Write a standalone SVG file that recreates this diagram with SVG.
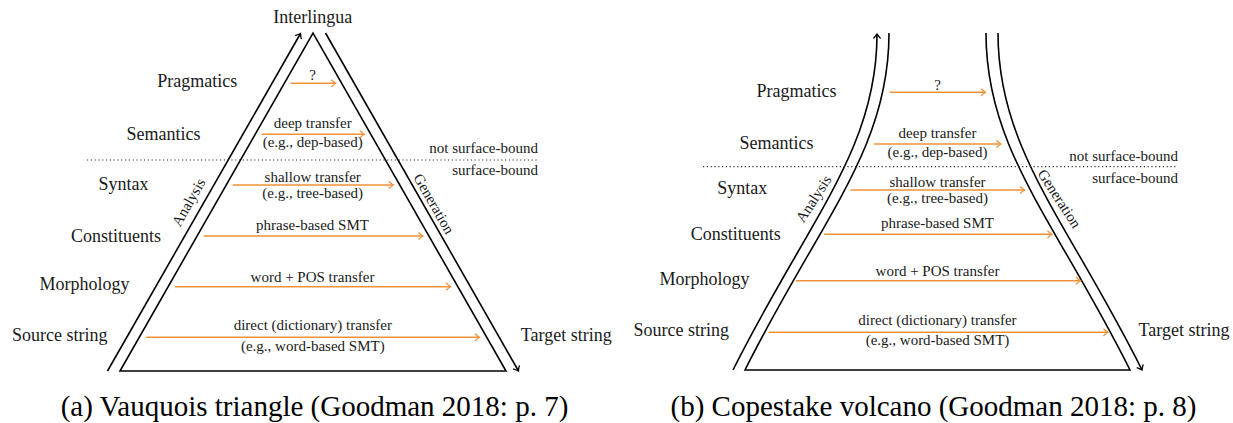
<svg xmlns="http://www.w3.org/2000/svg" width="1233" height="423" viewBox="0 0 1233 423">
<style>
text{font-family:'Liberation Serif',serif}
.lbl{font-size:18px;fill:#1a1a1a;text-anchor:middle}
.sm{font-size:15px;fill:#1a1a1a;text-anchor:middle}
.cap{font-size:29px;fill:#000;text-anchor:middle}
.edge{fill:none;stroke:#000;stroke-width:1.6}
.flow{fill:none;stroke:#f0913a;stroke-width:1.6;marker-end:url(#oa)}
.dot{stroke:#333;stroke-width:1.2;stroke-dasharray:1.2 2.6}
</style>
<defs>
<marker id="ba" markerUnits="userSpaceOnUse" markerWidth="12" markerHeight="12" refX="0" refY="0" orient="auto" overflow="visible">
<path d="M-4.5,-3.6 Q-1.6,-0.9 0,0 Q-1.6,0.9 -4.5,3.6" fill="none" stroke="#000" stroke-width="1.3"/>
</marker>
<marker id="oa" markerUnits="userSpaceOnUse" markerWidth="12" markerHeight="12" refX="0" refY="0" orient="auto" overflow="visible">
<path d="M-4.5,-3.6 Q-1.6,-0.9 0,0 Q-1.6,0.9 -4.5,3.6" fill="none" stroke="#f0913a" stroke-width="1.3"/>
</marker>
</defs>

<!-- (a) Vauquois triangle -->
<g id="triangle">
<path class="edge" d="M120,371 L313,33 L506,371 Z"/>
<path class="edge" d="M107.5,371 L300.5,33.5" marker-end="url(#ba)"/>
<path class="edge" d="M325.5,33 L518.5,371" marker-end="url(#ba)"/>
<text class="sm" transform="translate(189,202.5) rotate(-60.3)" y="4.5">Analysis</text>
<text class="sm" transform="translate(433.5,204) rotate(60.3)" y="4.5">Generation</text>
</g>
<g id="a-boundary">
<line class="dot" x1="87" y1="160" x2="538" y2="160"/>
<text class="sm" x="538" y="153.3" style="text-anchor:end">not surface-bound</text>
<text class="sm" x="538" y="175" style="text-anchor:end">surface-bound</text>
</g>
<g id="a-interlingua"><text class="lbl" x="312.8" y="23.3">Interlingua</text></g>
<g id="a-pragmatics"><text class="lbl" x="197.3" y="87">Pragmatics</text></g>
<g id="a-semantics"><text class="lbl" x="163.5" y="140">Semantics</text></g>
<g id="a-syntax"><text class="lbl" x="123.5" y="189.5">Syntax</text></g>
<g id="a-constituents"><text class="lbl" x="115.9" y="241.5">Constituents</text></g>
<g id="a-morphology"><text class="lbl" x="84.4" y="290">Morphology</text></g>
<g id="a-source"><text class="lbl" x="59.7" y="340.7">Source string</text></g>
<g id="a-target"><text class="lbl" x="566.2" y="340.7">Target string</text></g>

<!-- (b) Copestake volcano -->
<g id="volcano">
<path class="edge" d="M889,33 C889,150 820,220 745,370 L1130,370 C1055,220 986,150 986,33"/>
<path class="edge" d="M733,370 C808,220 877,150 877,34" marker-end="url(#ba)"/>
<path class="edge" d="M998,33 C998,150 1067,220 1142,370" marker-end="url(#ba)"/>
<text class="sm" transform="translate(814,199) rotate(-57)" y="4.5">Analysis</text>
<text class="sm" transform="translate(1059,199) rotate(57)" y="4.5">Generation</text>
</g>
<g id="b-boundary">
<line class="dot" x1="703" y1="166.7" x2="1178" y2="166.7"/>
<text class="sm" x="1178" y="160.7" style="text-anchor:end">not surface-bound</text>
<text class="sm" x="1178" y="183.3" style="text-anchor:end">surface-bound</text>
</g>
<g id="b-pragmatics"><text class="lbl" x="796.5" y="96.7">Pragmatics</text></g>
<g id="b-semantics"><text class="lbl" x="776.5" y="149.3">Semantics</text></g>
<g id="b-syntax"><text class="lbl" x="742.2" y="194">Syntax</text></g>
<g id="b-constituents"><text class="lbl" x="735.7" y="240">Constituents</text></g>
<g id="b-morphology"><text class="lbl" x="704.4" y="285">Morphology</text></g>
<g id="b-source"><text class="lbl" x="681.2" y="336">Source string</text></g>
<g id="b-target"><text class="lbl" x="1184" y="336">Target string</text></g>

<g id="connectors">
<line class="flow" x1="290.7" y1="83.3" x2="335.7" y2="83.3"/>
<line class="flow" x1="261.7" y1="134.3" x2="364.3" y2="134.3"/>
<line class="flow" x1="232.7" y1="185" x2="393.3" y2="185"/>
<line class="flow" x1="203.6" y1="236" x2="423" y2="236"/>
<line class="flow" x1="175" y1="286.7" x2="450.6" y2="286.7"/>
<line class="flow" x1="146.2" y1="337.3" x2="479.4" y2="337.3"/>
<line class="flow" x1="889.7" y1="92.3" x2="985.5" y2="92.3"/>
<line class="flow" x1="874" y1="144" x2="1001" y2="144"/>
<line class="flow" x1="850.6" y1="190" x2="1024.6" y2="190"/>
<line class="flow" x1="824" y1="234.3" x2="1052" y2="234.3"/>
<line class="flow" x1="796" y1="280.7" x2="1080.5" y2="280.7"/>
<line class="flow" x1="768.6" y1="332.3" x2="1107.9" y2="332.3"/>
</g>
<g id="connector-labels">
<text class="sm" x="312.5" y="80">?</text>
<text class="sm" x="312.7" y="128.3">deep transfer</text>
<text class="sm" x="312.7" y="146.7">(e.g., dep-based)</text>
<text class="sm" x="312.7" y="181.7">shallow transfer</text>
<text class="sm" x="312.7" y="198.3">(e.g., tree-based)</text>
<text class="sm" x="312.5" y="230">phrase-based SMT</text>
<text class="sm" x="312.5" y="281.7">word + POS transfer</text>
<text class="sm" x="312.8" y="330">direct (dictionary) transfer</text>
<text class="sm" x="312.8" y="350.7">(e.g., word-based SMT)</text>
<text class="sm" x="937.5" y="89.5">?</text>
<text class="sm" x="937.5" y="138.3">deep transfer</text>
<text class="sm" x="937.5" y="157.3">(e.g., dep-based)</text>
<text class="sm" x="937.5" y="186.7">shallow transfer</text>
<text class="sm" x="937.5" y="203.3">(e.g., tree-based)</text>
<text class="sm" x="937.5" y="228.3">phrase-based SMT</text>
<text class="sm" x="937.5" y="276">word + POS transfer</text>
<text class="sm" x="937.5" y="325">direct (dictionary) transfer</text>
<text class="sm" x="937.5" y="345">(e.g., word-based SMT)</text>
</g>
<g id="captions">
<text class="cap" x="314.5" y="416">(a) Vauquois triangle (Goodman 2018: p. 7)</text>
<text class="cap" x="933.5" y="416">(b) Copestake volcano (Goodman 2018: p. 8)</text>
</g>
</svg>
